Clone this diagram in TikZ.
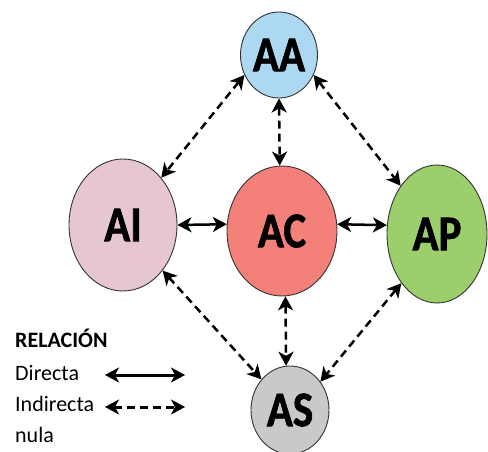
\documentclass[tikz,border=0pt]{standalone}
\usepackage{fontspec}
\setmainfont{Carlito}
\newfontfamily\nomfont[FakeStretch=0.86,BoldFeatures={FakeBold=1.2}]{Carlito}
\usetikzlibrary{shapes.geometric,arrows.meta}
\definecolor{cAA}{HTML}{ADD8F2}
\definecolor{cAI}{HTML}{E7C6D4}
\definecolor{cAC}{HTML}{F4807A}
\definecolor{cAP}{HTML}{9CCF6C}
\definecolor{cAS}{HTML}{C8C9CB}

\begin{document}
\begin{tikzpicture}[x=1pt,y=-1pt,
	zone/.style={ellipse,draw=black!80,line width=0.9pt,inner sep=0pt,
		font=\nomfont\bfseries\fontsize{50}{50}\selectfont},
	rel/.style={line width=2.5pt,{Stealth[length=14pt,width=15pt,inset=4pt]}-{Stealth[length=14pt,width=15pt,inset=4pt]}},
	ind/.style={rel,dash pattern=on 8pt off 5pt},
	leg/.style={anchor=base west,inner sep=0pt,font=\fontsize{22}{22}\selectfont}]
		\useasboundingbox (0,0) rectangle (488,452);
		%Noeuds du diagramme
		\node[zone,fill=cAA,minimum width=77pt,minimum height=86pt] (AA) at (279,55) {AA};
		\node[zone,fill=cAI,minimum width=108pt,minimum height=132pt] (AI) at (123,225) {AI};
		\node[zone,fill=cAC,minimum width=110pt,minimum height=130pt] (AC) at (282,231) {AC};
		\node[zone,fill=cAP,minimum width=100pt,minimum height=138pt] (AP) at (437,234) {AP};
		\node[zone,fill=cAS,minimum width=78pt,minimum height=88pt] (AS) at (290,410) {AS};
		%Relations
		\draw[ind] (AA.210) -- (AI.51);
		\draw[ind] (AA.270) -- (AC.92);
		\draw[ind] (AA.330) -- (AP.127);
		\draw[rel] (AI.east) -- (AC.173);
		\draw[rel] (AC.7) -- (AP.170);
		\draw[ind] (AI.311) -- (AS.133);
		\draw[ind] (AC.273) -- (AS.95);
		\draw[ind] (AP.234) -- (AS.43);
		%Legende
		\node[leg,font=\fontsize{22}{22}\selectfont\bfseries] (L0) at (15,347) {RELACIÓN};
		\node[leg] (L1) at (15,380) {Directa};
		\node[leg] (L2) at (15,411) {Indirecta};
		\node[leg] (L3) at (15,442) {nula};
		\coordinate (D1) at (105,375);
		\coordinate (D2) at (185,375);
		\coordinate (I1) at (105,407);
		\coordinate (I2) at (185,407);
		\draw[rel,line width=3pt] (D1) -- (D2);
		\draw[ind,line width=3pt] (I1) -- (I2);
	\end{tikzpicture}
\end{document}
